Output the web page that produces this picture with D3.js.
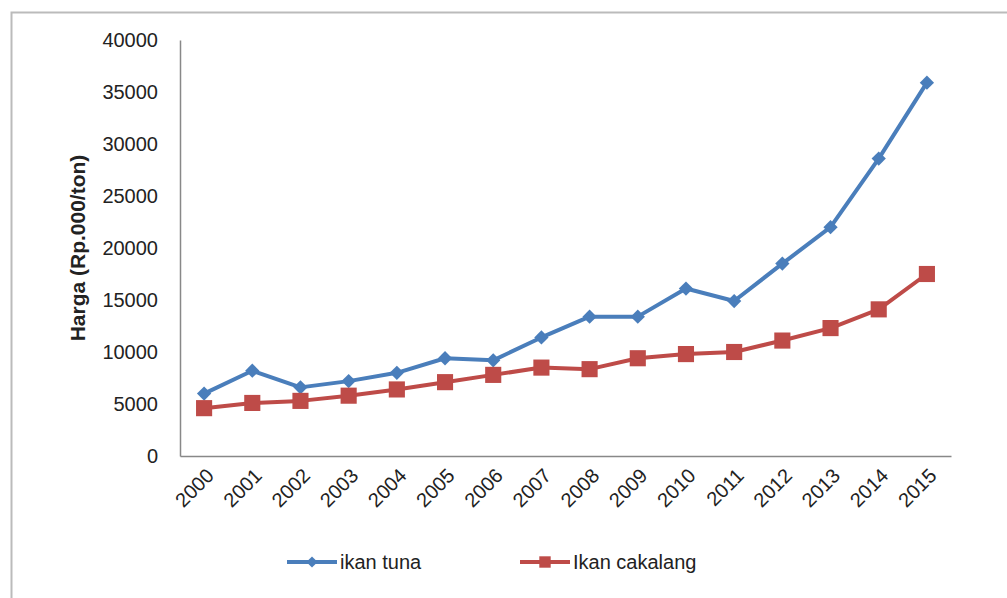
<!DOCTYPE html>
<html lang="id">
<head>
  <meta charset="UTF-8">
  <title>Harga ikan tuna dan cakalang</title>
  <style>
    body { margin: 0; background: #fff; }
    svg { display: block; }
    text {
      font-family: "Liberation Sans", Arial, sans-serif;
      fill: #222;
    }
    .axis path, .axis line { stroke: #888; stroke-width: 1.5px; }
    .axis text { font-size: 20px; fill: #222; font-family: "Liberation Sans", Arial, sans-serif; }
  </style>
</head>
<body>
  <svg width="1007" height="598"></svg>

  <script src="https://d3js.org/d3.v7.min.js"></script>
  <script>
    var years = ["2000", "2001", "2002", "2003", "2004", "2005", "2006", "2007",
                 "2008", "2009", "2010", "2011", "2012", "2013", "2014", "2015"];
    var tuna = [6000, 8200, 6600, 7200, 8000, 9400, 9200, 11400,
                13400, 13400, 16100, 14900, 18500, 22000, 28600, 35900];
    var cakalang = [4600, 5100, 5300, 5800, 6400, 7100, 7800, 8500,
                    8350, 9400, 9800, 10000, 11100, 12300, 14100, 17500];
    var yTicks = [0, 5000, 10000, 15000, 20000, 25000, 30000, 35000, 40000];

    var series = [
      { name: "ikan tuna", values: tuna, color: "#4a7ebb", marker: "diamond" },
      { name: "Ikan cakalang", values: cakalang, color: "#be4b48", marker: "square" }
    ];

    var svg = d3.select("svg");

    // outer chart frame (only top and left edges fall inside the picture)
    svg.append("path")
        .attr("d", "M11.5,598 V12.5 H1007")
        .attr("fill", "none")
        .attr("stroke", "#bbb")
        .attr("stroke-width", 2);

    var plotLeft = 180, plotRight = 951, plotTop = 40, plotBottom = 456;

    var x = d3.scaleBand().domain(years).range([plotLeft, plotRight]);
    var y = d3.scaleLinear().domain([0, 40000]).range([plotBottom, plotTop]);

    var xAxis = svg.append("g")
        .attr("class", "axis")
        .attr("transform", "translate(0," + plotBottom + ")")
        .call(d3.axisBottom(x).tickSize(0).tickSizeOuter(0));
    xAxis.selectAll(".tick text")
        .attr("text-anchor", "end")
        .attr("x", 6)
        .attr("y", 16)
        .attr("dy", "0.35em")
        .attr("transform", "rotate(-45,6,16)");

    svg.append("g")
        .attr("class", "axis")
        .attr("transform", "translate(" + plotLeft + ",0)")
        .call(d3.axisLeft(y).tickValues(yTicks).tickFormat(d3.format("d"))
              .tickSize(0).tickSizeOuter(0).tickPadding(22));

    svg.append("text")
        .attr("transform", "translate(85," + ((plotTop + plotBottom) / 2) + ") rotate(-90)")
        .attr("text-anchor", "middle")
        .attr("font-size", 21)
        .attr("font-weight", "bold")
        .text("Harga (Rp.000/ton)");

    var line = d3.line()
        .x(function(d, i) { return x(years[i]) + x.bandwidth() / 2; })
        .y(function(d) { return y(d); });

    var diamond = d3.symbol().type(d3.symbolDiamond2).size(130);
    var square = d3.symbol().type(d3.symbolSquare).size(260);

    series.forEach(function(s) {
      var g = svg.append("g");
      g.append("path")
          .attr("d", line(s.values))
          .attr("fill", "none")
          .attr("stroke", s.color)
          .attr("stroke-width", 4)
          .attr("stroke-linejoin", "round");
      g.selectAll("path.m")
          .data(s.values)
          .enter().append("path")
          .attr("class", "m")
          .attr("transform", function(d, i) {
            return "translate(" + (x(years[i]) + x.bandwidth() / 2) + "," + y(d) + ")";
          })
          .attr("d", s.marker === "diamond" ? diamond : square)
          .attr("fill", s.color);
    });

    // legend
    var legendX = [287, 520];
    var legendY = 562;
    series.forEach(function(s, i) {
      var lg = svg.append("g").attr("transform", "translate(" + legendX[i] + "," + legendY + ")");
      lg.append("line")
          .attr("x1", 0).attr("x2", 50)
          .attr("stroke", s.color)
          .attr("stroke-width", 4);
      lg.append("path")
          .attr("transform", "translate(25,0)")
          .attr("d", s.marker === "diamond"
                ? d3.symbol().type(d3.symbolDiamond2).size(80)()
                : d3.symbol().type(d3.symbolSquare).size(130)())
          .attr("fill", s.color);
      lg.append("text")
          .attr("x", 53)
          .attr("dy", "0.35em")
          .attr("font-size", 20)
          .text(s.name);
    });
  </script>
</body>
</html>
